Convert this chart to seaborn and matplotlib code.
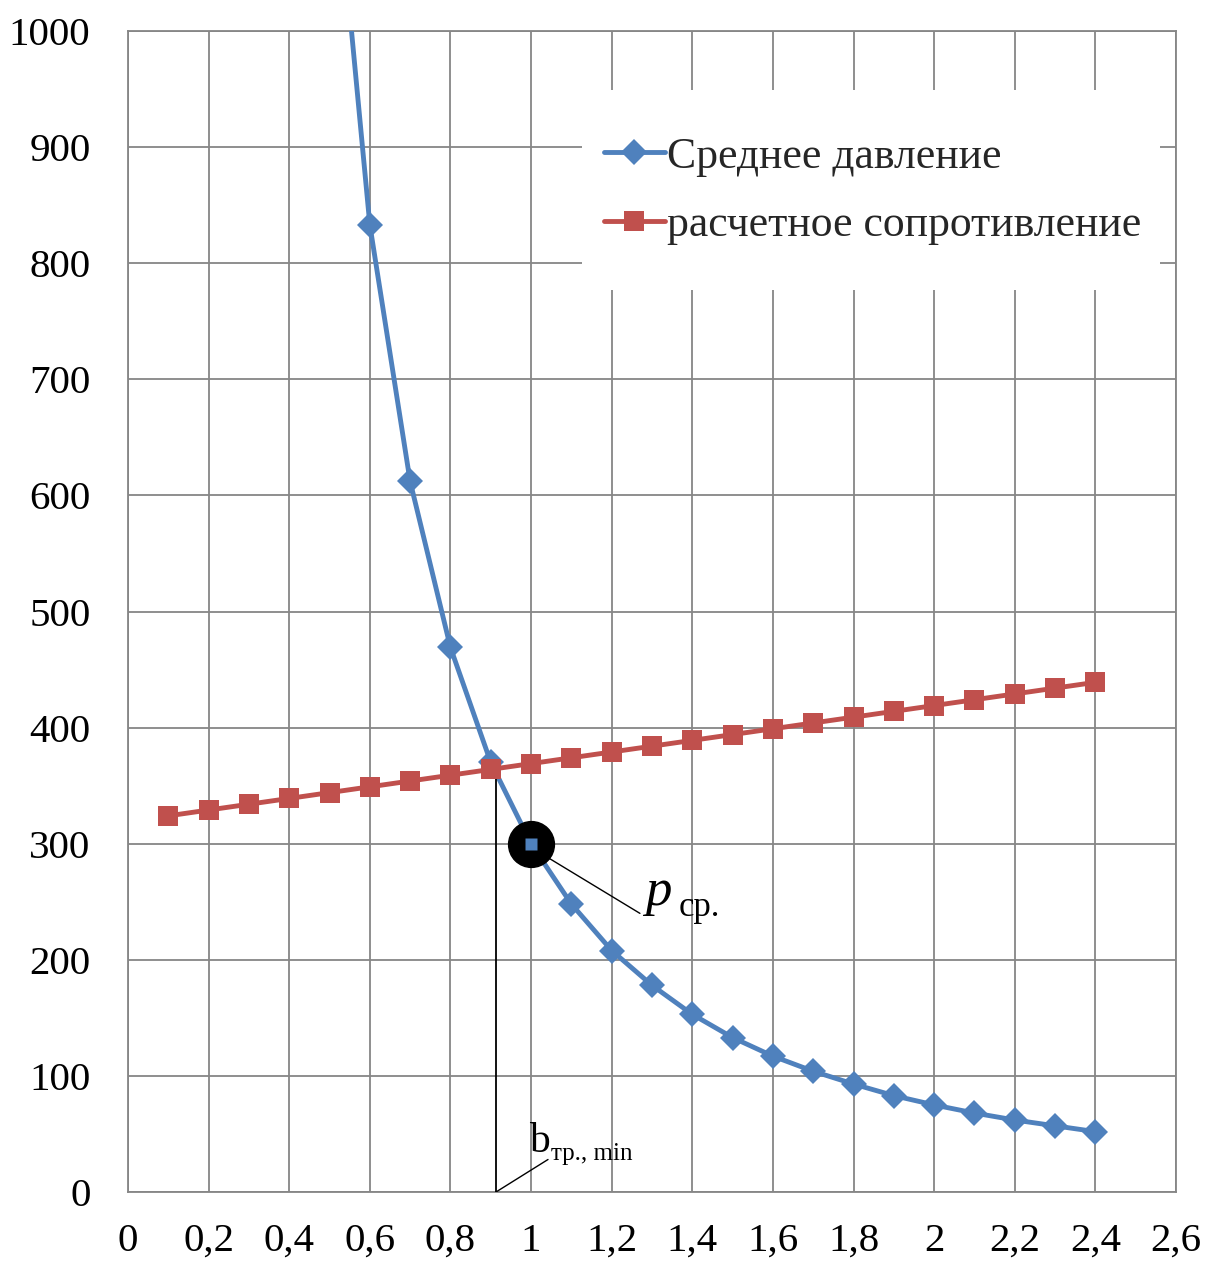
import numpy as np
import pandas as pd
import matplotlib
matplotlib.use("Agg")
import matplotlib.pyplot as plt
import seaborn as sns
from matplotlib.lines import Line2D
from matplotlib.patches import Rectangle

# ---- data ----
x_pressure = [0.5, 0.6, 0.7, 0.8, 0.9, 1.0, 1.1, 1.2, 1.3, 1.4, 1.5, 1.6,
              1.7, 1.8, 1.9, 2.0, 2.1, 2.2, 2.3, 2.4]
avg_pressure = [1200, 833, 612, 469, 370, 300, 248, 208, 178, 153, 133, 117,
                104, 93, 83, 75, 68, 62, 57, 52]

x_resist = [0.1, 0.2, 0.3, 0.4, 0.5, 0.6, 0.7, 0.8, 0.9, 1.0, 1.1, 1.2,
            1.3, 1.4, 1.5, 1.6, 1.7, 1.8, 1.9, 2.0, 2.1, 2.2, 2.3, 2.4]
design_resist = [324, 329, 334, 339, 344, 349, 354, 359, 364, 369, 374, 379,
                 384, 389, 394, 399, 404, 409, 414, 419, 424, 429, 434, 439]

x_ticks = [0, 0.2, 0.4, 0.6, 0.8, 1.0, 1.2, 1.4, 1.6, 1.8, 2.0, 2.2, 2.4, 2.6]
x_tick_labels = ["0", "0,2", "0,4", "0,6", "0,8", "1", "1,2", "1,4", "1,6",
                 "1,8", "2", "2,2", "2,4", "2,6"]
y_ticks = [0, 100, 200, 300, 400, 500, 600, 700, 800, 900, 1000]

label_p = "Среднее давление"
label_r = "расчетное сопротивление"

b_min = 0.913          # intersection abscissa
b_min_val = 365
p_point = (1.0, 300)

BLUE = "#4F81BD"
RED = "#C0504D"
GRID = "#868686"

sns.set_theme(style="white")
plt.rcParams["font.family"] = ["Liberation Serif", "DejaVu Serif"]

fig = plt.figure(figsize=(12.11, 12.61), dpi=100)
ax = fig.add_axes([128 / 1211, 1 - 1192 / 1261, 1048 / 1211, 1161 / 1261])

df_p = pd.DataFrame({"x": x_pressure, "y": avg_pressure})
df_r = pd.DataFrame({"x": x_resist, "y": design_resist})

sns.lineplot(data=df_p, x="x", y="y", ax=ax, color=BLUE, lw=3.5, marker="D",
             markersize=13, markeredgewidth=0, sort=False, estimator=None,
             zorder=3)
sns.lineplot(data=df_r, x="x", y="y", ax=ax, color=RED, lw=3.5, marker="s",
             markersize=15, markeredgewidth=0, sort=False, estimator=None,
             zorder=4)

# highlighted point
ax.plot([p_point[0]], [p_point[1]], marker="o", ms=33, color="black",
        zorder=5, clip_on=False)
idx = x_pressure.index(1.0)
ax.plot([x_pressure[idx]], [avg_pressure[idx]], marker="s", ms=9,
        color=BLUE, mec="none", zorder=6)

# leader to p_cp
ax.plot([1.042, 1.270], [288, 240], color="black", lw=1.0, zorder=6)
ax.text(1.283, 258, "p", fontsize=38, style="italic", color="black",
        ha="left", va="center", zorder=7)
ax.text(1.365, 245, "ср.", fontsize=25, color="black",
        ha="left", va="center", zorder=7)

# vertical b_min line
ax.plot([b_min, b_min], [0, b_min_val], color="black", lw=1.3, zorder=3.5)
ax.plot([b_min, 1.042], [0, 28], color="black", lw=1.0, zorder=6)
ax.text(0.995, 43, "b", fontsize=30, color="black", ha="left",
        va="center", zorder=7)
ax.text(1.05, 33, "тр., min", fontsize=18, color="black", ha="left",
        va="center", zorder=7)

ax.set_xlim(0, 2.6)
ax.set_ylim(0, 1000)
ax.set_xticks(x_ticks)
ax.set_xticklabels(x_tick_labels)
ax.set_yticks(y_ticks)
ax.set_xlabel("")
ax.set_ylabel("")

ax.grid(True, color=GRID, lw=1.3)
for s in ax.spines.values():
    s.set_color(GRID)
    s.set_linewidth(1.3)
ax.tick_params(axis="both", direction="out", length=8, width=1.3,
               color=GRID, labelsize=29.5, labelcolor="black")
ax.tick_params(axis="y", pad=19)
ax.tick_params(axis="x", pad=14)

# white legend background
ax.add_patch(Rectangle((0.433, 0.777), 0.552, 0.172, transform=ax.transAxes,
                       facecolor="white", edgecolor="none", zorder=8))

handles = [
    Line2D([], [], color=BLUE, lw=3.5, marker="D", ms=13, mew=0),
    Line2D([], [], color=RED, lw=3.5, marker="s", ms=15, mew=0),
]
leg = ax.legend(handles, [label_p, label_r], loc="upper left",
                bbox_to_anchor=(0.454, 0.909), fontsize=31.5, frameon=False,
                handlelength=1.4, handletextpad=0.05,
                borderpad=0, labelspacing=0.65, borderaxespad=0)
leg.set_zorder(10)

fig.savefig("out.png", dpi=100, facecolor="white")
